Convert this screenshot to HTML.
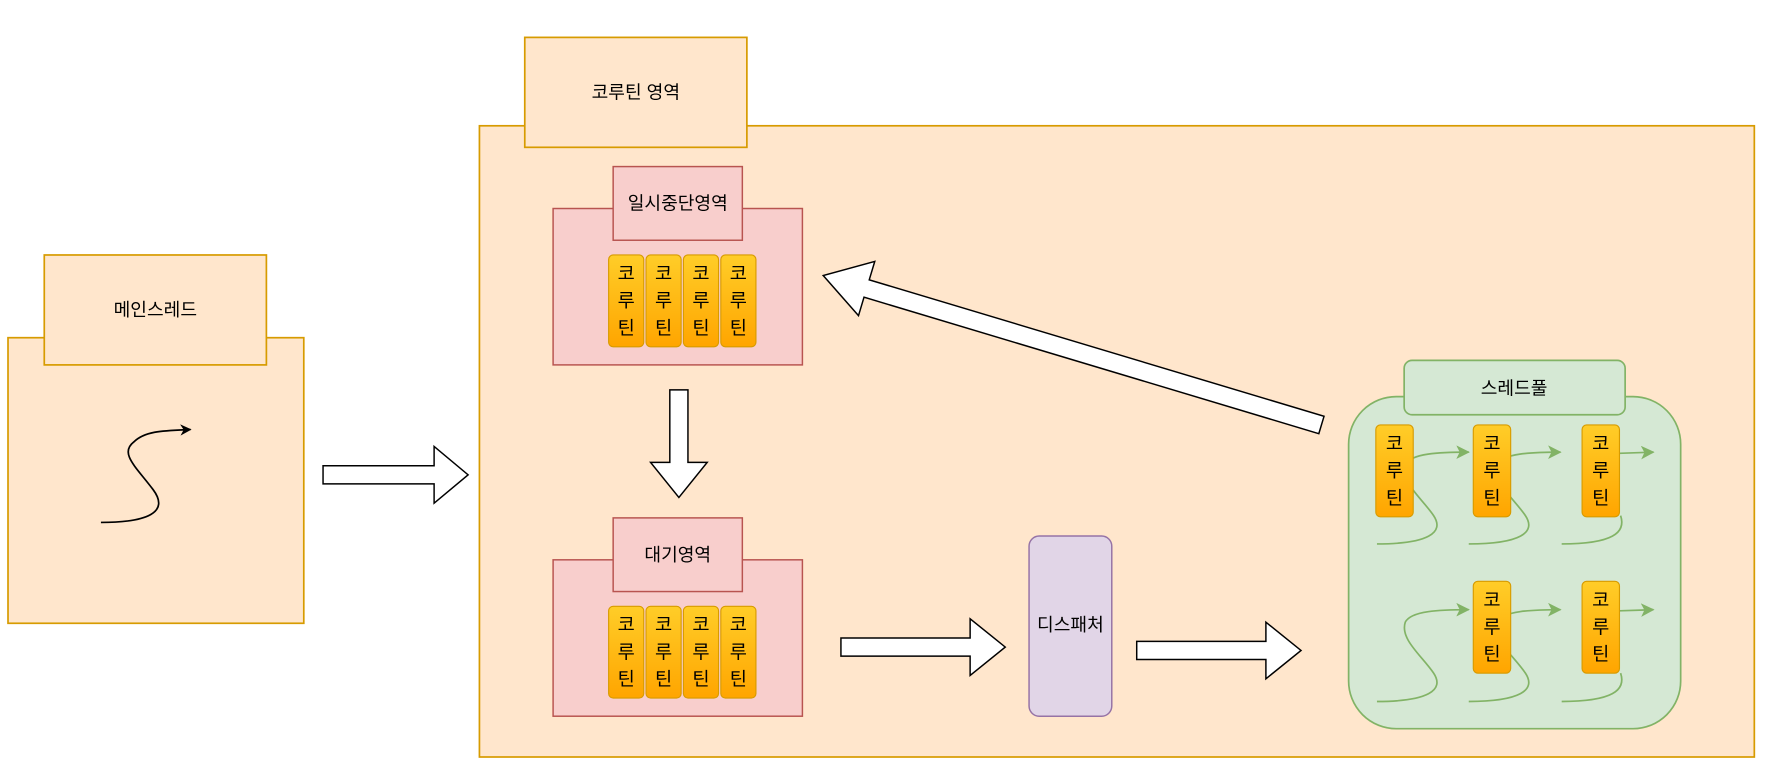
<!DOCTYPE html>
<html><head><meta charset="utf-8"><style>html,body{margin:0;padding:0;background:#fff;}svg{display:block;}text{font-family:"Liberation Sans","Noto Sans CJK KR",sans-serif;fill:#000;}</style></head>
<body>
<svg width="1768" height="774" viewBox="0 0 1560 683" xmlns="http://www.w3.org/2000/svg">
<defs>
<linearGradient id="g" x1="0" y1="0" x2="0" y2="1"><stop offset="0" stop-color="#ffcd28"/><stop offset="1" stop-color="#ffa500"/></linearGradient>
<marker id="mk" markerWidth="10" markerHeight="10" refX="9" refY="5" orient="auto" markerUnits="userSpaceOnUse"><path d="M0,0 L10,5 L0,10 L3,5 Z" fill="#000"/></marker>
<marker id="mg" markerWidth="12" markerHeight="12" refX="11" refY="6" orient="auto" markerUnits="userSpaceOnUse"><path d="M0,0 L12,6 L0,12 L3,6 Z" fill="#82b366"/></marker>
<g id="chip"><rect x="0" y="0" width="31" height="81" rx="4" fill="url(#g)" stroke="#d79b00"/><text x="15.5" y="22" font-size="16.5" text-anchor="middle">코</text><text x="15.5" y="46" font-size="16.5" text-anchor="middle">루</text><text x="15.5" y="70" font-size="16.5" text-anchor="middle">틴</text></g>
<g id="chip2"><rect x="0" y="0" width="33" height="81" rx="4" fill="url(#g)" stroke="#d79b00"/><text x="16.5" y="22" font-size="16.5" text-anchor="middle">코</text><text x="16.5" y="46" font-size="16.5" text-anchor="middle">루</text><text x="16.5" y="70" font-size="16.5" text-anchor="middle">틴</text></g>
<path id="s" d="M0,0 C45,0 60,-10 50,-25 C40,-40 20,-55 25,-70 C30,-80 55,-81 81,-81" fill="none" stroke="#82b366" stroke-width="1.5" marker-end="url(#mg)"/>
</defs>
<!-- main thread -->
<rect x="7" y="298" width="261" height="252" fill="#ffe6cc" stroke="#d79b00" stroke-width="1.5"/>
<rect x="39" y="225" width="196" height="97" fill="#ffe6cc" stroke="#d79b00" stroke-width="1.5"/>
<text x="137" y="279" font-size="16" text-anchor="middle">메인스레드</text>
<path d="M89,461 C130,461 150,452 135,432 C120,412 105,400 118,390 C128,380 145,380 168,379" fill="none" stroke="#000" stroke-width="1.5" marker-end="url(#mk)"/>
<polygon points="285,411 383,411 383,394 413,419 383,444 383,427 285,427" fill="#fff" stroke="#000" stroke-width="1.3"/>
<!-- big area -->
<rect x="423" y="111" width="1125" height="557" fill="#ffe6cc" stroke="#d79b00" stroke-width="1.5"/>
<rect x="463" y="33" width="196" height="97" fill="#ffe6cc" stroke="#d79b00" stroke-width="1.5"/>
<text x="561" y="87" font-size="16" text-anchor="middle">코루틴 영역</text>
<!-- pause -->
<rect x="488" y="184" width="220" height="138" fill="#f8cecc" stroke="#b85450" stroke-width="1.3"/>
<rect x="541" y="147" width="114" height="65" fill="#f8cecc" stroke="#b85450" stroke-width="1.3"/>
<text x="598" y="185" font-size="16" text-anchor="middle">일시중단영역</text>
<use href="#chip" x="537" y="225"/><use href="#chip" x="570" y="225"/><use href="#chip" x="603" y="225"/><use href="#chip" x="636" y="225"/>
<polygon points="591,344 607,344 607,408 624,408 599,439 574,408 591,408" fill="#fff" stroke="#000" stroke-width="1.3"/>
<!-- wait -->
<rect x="488" y="494" width="220" height="138" fill="#f8cecc" stroke="#b85450" stroke-width="1.3"/>
<rect x="541" y="457" width="114" height="65" fill="#f8cecc" stroke="#b85450" stroke-width="1.3"/>
<text x="598" y="495" font-size="16" text-anchor="middle">대기영역</text>
<use href="#chip" x="537" y="535"/><use href="#chip" x="570" y="535"/><use href="#chip" x="603" y="535"/><use href="#chip" x="636" y="535"/>
<polygon points="742,563 856,563 856,546 887,571 856,596 856,579 742,579" fill="#fff" stroke="#000" stroke-width="1.3"/>
<rect x="908" y="473" width="73" height="159" rx="9" fill="#e1d5e7" stroke="#9673a6" stroke-width="1.3"/>
<text x="944.5" y="557" font-size="16" text-anchor="middle">디스패처</text>
<polygon points="1003,566 1117,566 1117,549 1148,574 1117,599 1117,582 1003,582" fill="#fff" stroke="#000" stroke-width="1.3"/>
<!-- diagonal -->
<polygon transform="translate(1166,375) rotate(196.7)" points="0,-8 419,-8 419,-25 459,0 419,25 419,8 0,8" fill="#fff" stroke="#000" stroke-width="1.3"/>
<!-- thread pool -->
<rect x="1190" y="350" width="293" height="293" rx="42" fill="#d5e8d4" stroke="#82b366" stroke-width="1.5"/>
<rect x="1239" y="318" width="195" height="48" rx="7" fill="#d5e8d4" stroke="#82b366" stroke-width="1.5"/>
<text x="1336" y="348" font-size="16" text-anchor="middle">스레드풀</text>
<use href="#s" x="1215" y="480"/><use href="#s" x="1296" y="480"/>
<path d="M1378,480 C1423,480 1435,470 1430,455" fill="none" stroke="#82b366" stroke-width="1.5"/>
<path d="M1429,400 L1459,399" fill="none" stroke="#82b366" stroke-width="1.5" marker-end="url(#mg)"/>
<use href="#s" x="1215" y="619"/><use href="#s" x="1296" y="619"/>
<path d="M1378,619 C1423,619 1435,609 1430,594" fill="none" stroke="#82b366" stroke-width="1.5"/>
<path d="M1429,539 L1459,538" fill="none" stroke="#82b366" stroke-width="1.5" marker-end="url(#mg)"/>
<use href="#chip2" x="1214" y="375"/><use href="#chip2" x="1300" y="375"/><use href="#chip2" x="1396" y="375"/>
<use href="#chip2" x="1300" y="513"/><use href="#chip2" x="1396" y="513"/>
</svg>
</body></html>
